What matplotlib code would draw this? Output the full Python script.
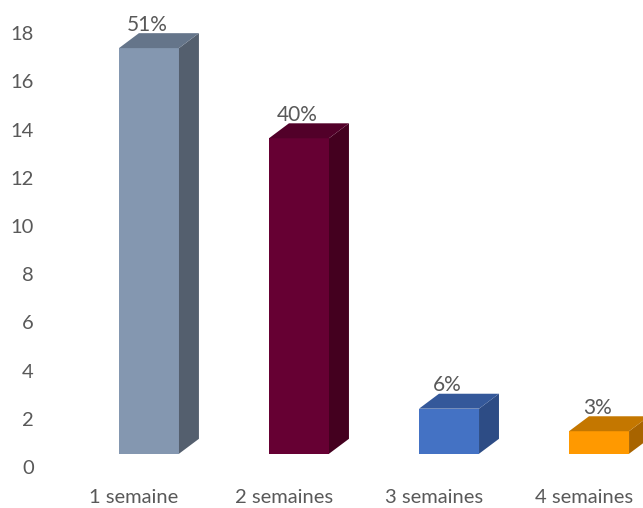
import numpy as np
import matplotlib
matplotlib.use('Agg')
import matplotlib.pyplot as plt
from matplotlib.patches import Polygon

categories = ['1 semaine', '2 semaines', '3 semaines', '4 semaines']
values = [18, 14, 2, 1]
front_colors = ['#8497B0', '#660033', '#4472C4', '#FF9900']
side_colors = ['#545F6E', '#44001F', '#2D4C85', '#A86400']
top_colors = ['#65758A', '#520029', '#34589A', '#C47700']

plt.rcParams['font.family'] = ['Lato', 'DejaVu Sans']
text_color = '#595959'

fig = plt.figure(figsize=(6.43, 5.08), dpi=100)
ax = fig.add_axes([0.07, 0.0807, 0.93, 0.919])

## 3d look parameters
base = 0.55
shrink = 0.935
width = 0.4
offset = 0.1
dx = 0.133
dy = 0.62

total = sum(values)
for i, v in enumerate(values):
    x0 = i + offset - width / 2
    x1 = x0 + width
    top = base + v * shrink
    front = Polygon([(x0, base), (x1, base), (x1, top), (x0, top)],
                    closed=True, facecolor=front_colors[i], edgecolor='none')
    side = Polygon([(x1, base), (x1 + dx, base + dy), (x1 + dx, top + dy), (x1, top)],
                   closed=True, facecolor=side_colors[i], edgecolor='none')
    lid = Polygon([(x0, top), (x1, top), (x1 + dx, top + dy), (x0 + dx, top + dy)],
                  closed=True, facecolor=top_colors[i], edgecolor='none')
    for p in (front, side, lid):
        ax.add_patch(p)
    ax.annotate('%d%%' % round(100 * v / total), (i + offset, top + dy),
                xytext=(-1, -1), textcoords='offset points',
                ha='center', va='bottom', fontsize=15, color=text_color)

ax.set_xlim(-0.593, 3.393)
ax.set_ylim(0, 19.37)
ax.set_yticks(np.arange(0, 19, 2))
ax.set_xticks(range(len(categories)))
ax.set_xticklabels(categories)
ax.tick_params(axis='both', length=0, colors=text_color, labelsize=14.5)
ax.tick_params(axis='y', pad=8)
ax.tick_params(axis='x', pad=16)
for s in ax.spines.values():
    s.set_visible(False)

fig.savefig('out.png', dpi=100)
